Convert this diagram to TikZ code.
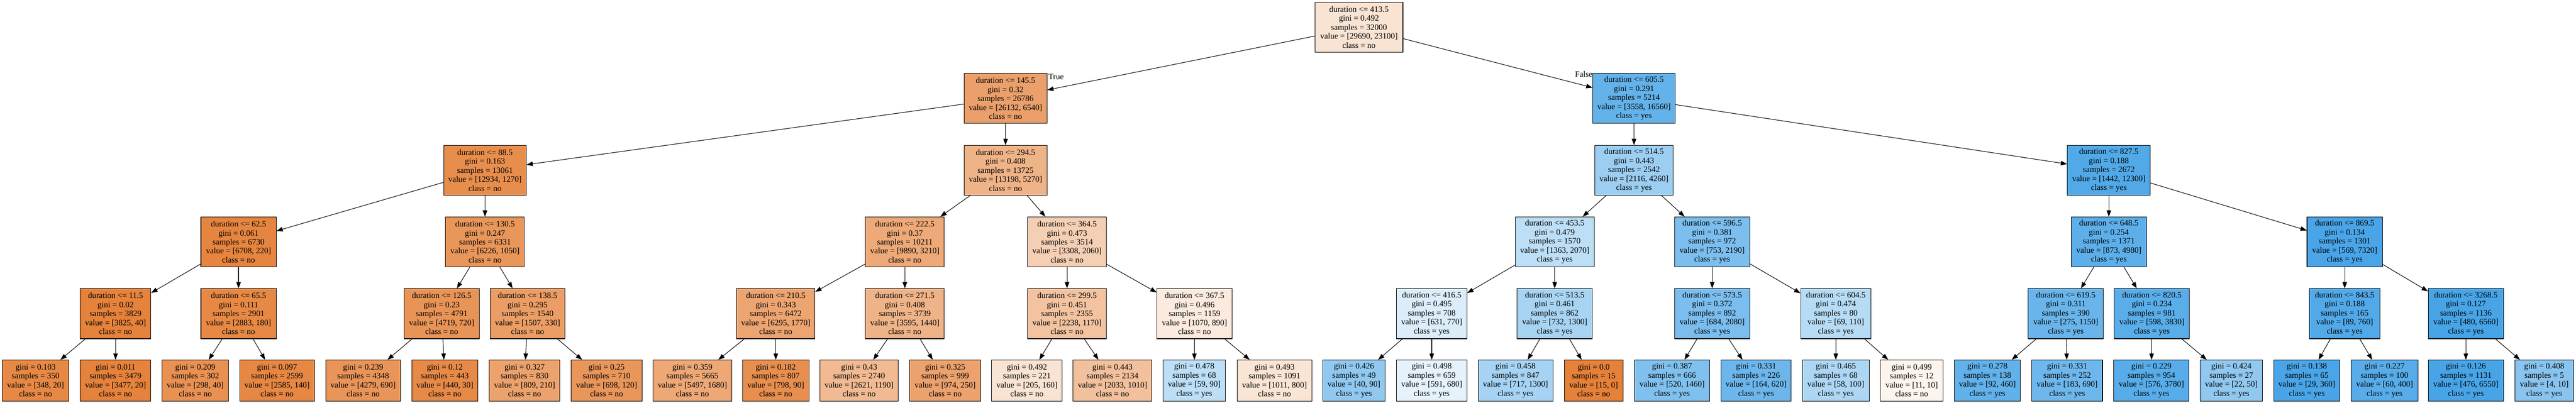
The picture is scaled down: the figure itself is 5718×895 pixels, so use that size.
\documentclass[tikz,border=0pt]{standalone}
\usepackage{fontspec}
\setmainfont{Liberation Serif}
\usetikzlibrary{arrows.meta}
\definecolor{cno}{RGB}{229,129,57}
\definecolor{cyes}{RGB}{57,157,229}
\newcommand{\itxt}[5]{duration <= #1\\gini = #2\\samples = #3\\value = [#4]\\class = #5}
\newcommand{\ltxt}[4]{gini = #1\\samples = #2\\value = [#3]\\class = #4}
\begin{document}
\begin{tikzpicture}[x=1pt,y=-1pt,
  box/.style={draw=black, line width=1.2pt, rectangle, align=center, inner sep=2pt,
    font=\fontsize{18.3}{20}\selectfont},
  ibox/.style={box, minimum height=111pt},
  lbox/.style={box, minimum height=91pt},
  edge/.style={draw=black, line width=1.2pt, -{Triangle[length=14pt,width=10pt]}},
  elab/.style={inner sep=0pt, font=\fontsize{18.3}{20}\selectfont}]
\useasboundingbox (0,0) rectangle (5718,895);
\fill[white] (0,0) rectangle (5718,895);
% level 0
\node[ibox, minimum width=195pt, fill=cno!22!white] (n0) at (3016.5,60.5) {\itxt{413.5}{0.492}{32000}{29690, 23100}{no}};
% level 1
\node[ibox, minimum width=184pt, fill=cno!75!white] (n1a) at (2232,218.5) {\itxt{145.5}{0.32}{26786}{26132, 6540}{no}};
\node[ibox, minimum width=183pt, fill=cyes!79!white] (n1b) at (3627,218.5) {\itxt{605.5}{0.291}{5214}{3558, 16560}{yes}};
% level 2
\node[ibox, minimum width=183pt, fill=cno!90!white] (n885) at (1076.5,378.5) {\itxt{88.5}{0.163}{13061}{12934, 1270}{no}};
\node[ibox, minimum width=184pt, fill=cno!60!white] (n2945) at (2232,378.5) {\itxt{294.5}{0.408}{13725}{13198, 5270}{no}};
\node[ibox, minimum width=174pt, fill=cyes!50!white] (n5145) at (3627,378.5) {\itxt{514.5}{0.443}{2542}{2116, 4260}{yes}};
\node[ibox, minimum width=184pt, fill=cyes!88!white] (n8275) at (4681,378.5) {\itxt{827.5}{0.188}{2672}{1442, 12300}{yes}};
% level 3
\node[ibox, minimum width=167pt, fill=cno!97!white] (n625) at (529.5,537.5) {\itxt{62.5}{0.061}{6730}{6708, 220}{no}};
\node[ibox, minimum width=175pt, fill=cno!83!white] (n1305) at (1076.5,537.5) {\itxt{130.5}{0.247}{6331}{6226, 1050}{no}};
\node[ibox, minimum width=175pt, fill=cno!68!white] (n2225) at (2008.5,537.5) {\itxt{222.5}{0.37}{10211}{9890, 3210}{no}};
\node[ibox, minimum width=175pt, fill=cno!38!white] (n3645) at (2368.5,537.5) {\itxt{364.5}{0.473}{3514}{3308, 2060}{no}};
\node[ibox, minimum width=175pt, fill=cyes!34!white] (n4535) at (3451,537.5) {\itxt{453.5}{0.479}{1570}{1363, 2070}{yes}};
\node[ibox, minimum width=167pt, fill=cyes!66!white] (n5965) at (3800.5,537.5) {\itxt{596.5}{0.381}{972}{753, 2190}{yes}};
\node[ibox, minimum width=167pt, fill=cyes!82!white] (n6485) at (4681,537.5) {\itxt{648.5}{0.254}{1371}{873, 4980}{yes}};
\node[ibox, minimum width=167pt, fill=cyes!92!white] (n8695) at (5204.5,537.5) {\itxt{869.5}{0.134}{1301}{569, 7320}{yes}};
% level 4
\node[ibox, minimum width=157pt, fill=cno!99!white] (n115) at (256.5,697) {\itxt{11.5}{0.02}{3829}{3825, 40}{no}};
\node[ibox, minimum width=167pt, fill=cno!94!white] (n655) at (529.5,697) {\itxt{65.5}{0.111}{2901}{2883, 180}{no}};
\node[ibox, minimum width=167pt, fill=cno!85!white] (n1265) at (980.5,697) {\itxt{126.5}{0.23}{4791}{4719, 720}{no}};
\node[ibox, minimum width=166pt, fill=cno!78!white] (n1385) at (1171,697) {\itxt{138.5}{0.295}{1540}{1507, 330}{no}};
\node[ibox, minimum width=174pt, fill=cno!72!white] (n2105) at (1722,697) {\itxt{210.5}{0.343}{6472}{6295, 1770}{no}};
\node[ibox, minimum width=175pt, fill=cno!60!white] (n2715) at (2008.5,697) {\itxt{271.5}{0.408}{3739}{3595, 1440}{no}};
\node[ibox, minimum width=175pt, fill=cno!48!white] (n2995) at (2368.5,697) {\itxt{299.5}{0.451}{2355}{2238, 1170}{no}};
\node[ibox, minimum width=167pt, fill=cno!17!white] (n3675) at (2651.5,697) {\itxt{367.5}{0.496}{1159}{1070, 890}{no}};
\node[ibox, minimum width=156pt, fill=cyes!18!white] (n4165) at (3178,697) {\itxt{416.5}{0.495}{708}{631, 770}{yes}};
\node[ibox, minimum width=167pt, fill=cyes!44!white] (n5135) at (3451,697) {\itxt{513.5}{0.461}{862}{732, 1300}{yes}};
\node[ibox, minimum width=167pt, fill=cyes!67!white] (n5735) at (3800.5,697) {\itxt{573.5}{0.372}{892}{684, 2080}{yes}};
\node[ibox, minimum width=156pt, fill=cyes!37!white] (n6045) at (4075,697) {\itxt{604.5}{0.474}{80}{69, 110}{yes}};
\node[ibox, minimum width=167pt, fill=cyes!76!white] (n6195) at (4585.5,697) {\itxt{619.5}{0.311}{390}{275, 1150}{yes}};
\node[ibox, minimum width=167pt, fill=cyes!84!white] (n8205) at (4776.5,697) {\itxt{820.5}{0.234}{981}{598, 3830}{yes}};
\node[ibox, minimum width=156pt, fill=cyes!88!white] (n8435) at (5204.5,697) {\itxt{843.5}{0.188}{165}{89, 760}{yes}};
\node[ibox, minimum width=167pt, fill=cyes!93!white] (n32685) at (5473.5,697) {\itxt{3268.5}{0.127}{1136}{480, 6560}{yes}};
% leaves
\node[lbox, minimum width=147pt, fill=cno!94!white] (l1) at (79,845.5) {\ltxt{0.103}{350}{348, 20}{no}};
\node[lbox, minimum width=157pt, fill=cno!99!white] (l2) at (256.5,845.5) {\ltxt{0.011}{3479}{3477, 20}{no}};
\node[lbox, minimum width=147pt, fill=cno!87!white] (l3) at (433.5,845.5) {\ltxt{0.209}{302}{298, 40}{no}};
\node[lbox, minimum width=166pt, fill=cno!95!white] (l4) at (615,845.5) {\ltxt{0.097}{2599}{2585, 140}{no}};
\node[lbox, minimum width=166pt, fill=cno!84!white] (l5) at (806,845.5) {\ltxt{0.239}{4348}{4279, 690}{no}};
\node[lbox, minimum width=147pt, fill=cno!93!white] (l6) at (987.5,845.5) {\ltxt{0.12}{443}{440, 30}{no}};
\node[lbox, minimum width=157pt, fill=cno!74!white] (l7) at (1164.5,845.5) {\ltxt{0.327}{830}{809, 210}{no}};
\node[lbox, minimum width=157pt, fill=cno!83!white] (l8) at (1346.5,845.5) {\ltxt{0.25}{710}{698, 120}{no}};
\node[lbox, minimum width=174pt, fill=cno!69!white] (l9) at (1537,845.5) {\ltxt{0.359}{5665}{5497, 1680}{no}};
\node[lbox, minimum width=148pt, fill=cno!89!white] (l10) at (1722,845.5) {\ltxt{0.182}{807}{798, 90}{no}};
\node[lbox, minimum width=174pt, fill=cno!55!white] (l11) at (1907,845.5) {\ltxt{0.43}{2740}{2621, 1190}{no}};
\node[lbox, minimum width=158pt, fill=cno!74!white] (l12) at (2098,845.5) {\ltxt{0.325}{999}{974, 250}{no}};
\node[lbox, minimum width=157pt, fill=cno!22!white] (l13) at (2279.5,845.5) {\ltxt{0.492}{221}{205, 160}{no}};
\node[lbox, minimum width=175pt, fill=cno!50!white] (l14) at (2469.5,845.5) {\ltxt{0.443}{2134}{2033, 1010}{no}};
\node[lbox, minimum width=138pt, fill=cyes!34!white] (l15) at (2651,845.5) {\ltxt{0.478}{68}{59, 90}{yes}};
\node[lbox, minimum width=166pt, fill=cno!21!white] (l16) at (2829,845.5) {\ltxt{0.493}{1091}{1011, 800}{no}};
\node[lbox, minimum width=139pt, fill=cyes!56!white] (l17) at (3005.5,845.5) {\ltxt{0.426}{49}{40, 90}{yes}};
\node[lbox, minimum width=156pt, fill=cyes!13!white] (l18) at (3178,845.5) {\ltxt{0.498}{659}{591, 680}{yes}};
\node[lbox, minimum width=166pt, fill=cyes!45!white] (l19) at (3364,845.5) {\ltxt{0.458}{847}{717, 1300}{yes}};
\node[lbox, minimum width=131pt, fill=cno] (l20) at (3537.5,845.5) {\ltxt{0.0}{15}{15, 0}{no}};
\node[lbox, minimum width=167pt, fill=cyes!64!white] (l21) at (3711.5,845.5) {\ltxt{0.387}{666}{520, 1460}{yes}};
\node[lbox, minimum width=156pt, fill=cyes!74!white] (l22) at (3898,845.5) {\ltxt{0.331}{226}{164, 620}{yes}};
\node[lbox, minimum width=148pt, fill=cyes!42!white] (l23) at (4075,845.5) {\ltxt{0.465}{68}{58, 100}{yes}};
\node[lbox, minimum width=139pt, fill=cno!9!white] (l24) at (4243.5,845.5) {\ltxt{0.499}{12}{11, 10}{no}};
\node[lbox, minimum width=147pt, fill=cyes!80!white] (l25) at (4411.5,845.5) {\ltxt{0.278}{138}{92, 460}{yes}};
\node[lbox, minimum width=157pt, fill=cyes!73!white] (l26) at (4588.5,845.5) {\ltxt{0.331}{252}{183, 690}{yes}};
\node[lbox, minimum width=167pt, fill=cyes!85!white] (l27) at (4775.5,845.5) {\ltxt{0.229}{954}{576, 3780}{yes}};
\node[lbox, minimum width=138pt, fill=cyes!56!white] (l28) at (4953,845.5) {\ltxt{0.424}{27}{22, 50}{yes}};
\node[lbox, minimum width=147pt, fill=cyes!92!white] (l29) at (5120.5,845.5) {\ltxt{0.138}{65}{29, 360}{yes}};
\node[lbox, minimum width=148pt, fill=cyes!85!white] (l30) at (5293,845.5) {\ltxt{0.227}{100}{60, 400}{yes}};
\node[lbox, minimum width=167pt, fill=cyes!93!white] (l31) at (5473.5,845.5) {\ltxt{0.126}{1131}{476, 6550}{yes}};
\node[lbox, minimum width=131pt, fill=cyes!60!white] (l32) at (5647.5,845.5) {\ltxt{0.408}{5}{4, 10}{yes}};
% edge labels
\node[elab, anchor=base west] (ltrue) at (2327,176.5) {True};
\node[elab, anchor=base east] (lfalse) at (3535,171) {False};
% edges
\foreach \p/\c in {n0/n1a, n0/n1b,
  n1a/n885, n1a/n2945, n1b/n5145, n1b/n8275,
  n885/n625, n885/n1305, n2945/n2225, n2945/n3645,
  n5145/n4535, n5145/n5965, n8275/n6485, n8275/n8695,
  n625/n115, n625/n655, n1305/n1265, n1305/n1385,
  n2225/n2105, n2225/n2715, n3645/n2995, n3645/n3675,
  n4535/n4165, n4535/n5135, n5965/n5735, n5965/n6045,
  n6485/n6195, n6485/n8205, n8695/n8435, n8695/n32685,
  n115/l1, n115/l2, n655/l3, n655/l4, n1265/l5, n1265/l6, n1385/l7, n1385/l8,
  n2105/l9, n2105/l10, n2715/l11, n2715/l12, n2995/l13, n2995/l14, n3675/l15, n3675/l16,
  n4165/l17, n4165/l18, n5135/l19, n5135/l20, n5735/l21, n5735/l22, n6045/l23, n6045/l24,
  n6195/l25, n6195/l26, n8205/l27, n8205/l28, n8435/l29, n8435/l30, n32685/l31, n32685/l32}
  {\draw[edge] (\p) -- (\c);}
\end{tikzpicture}
\end{document}
